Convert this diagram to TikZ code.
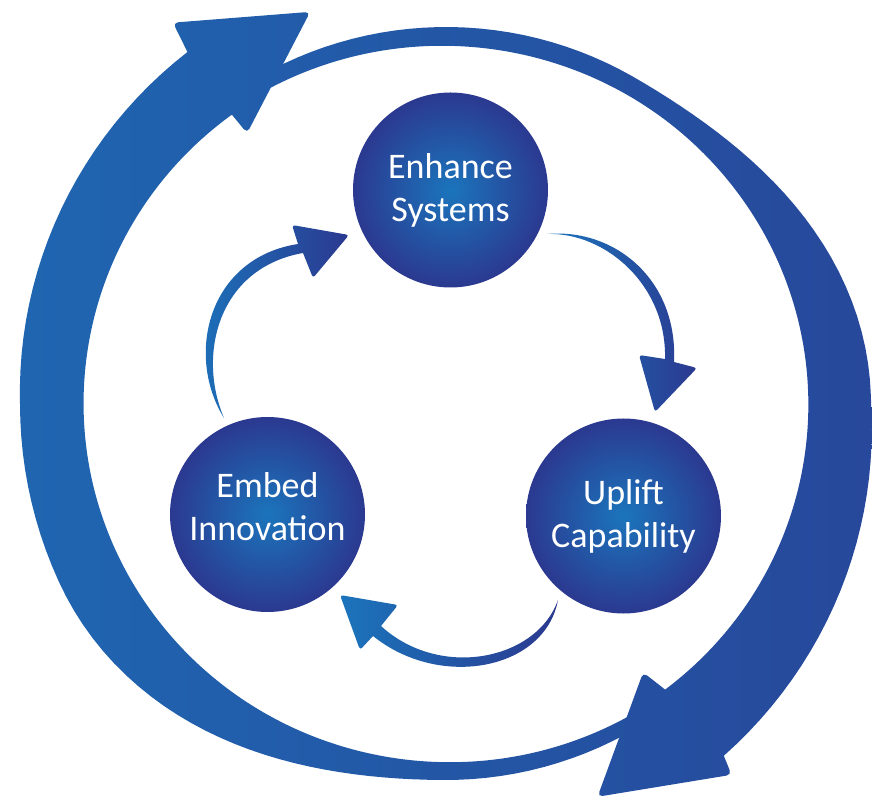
\documentclass[tikz,border=0pt]{standalone}
\usepackage{fontspec}
\setmainfont{Carlito}
\usetikzlibrary{calc}
\definecolor{lite}{RGB}{27,117,188}
\definecolor{deep}{RGB}{43,57,144}
\pgfdeclarehorizontalshading{sweep}{100bp}{color(0bp)=(lite); color(100bp)=(deep)}
\pgfdeclareradialshading{orbfill}{\pgfpoint{0bp}{0bp}}{color(0bp)=(lite); color(25bp)=(deep); color(50bp)=(deep)}
\begin{document}
\begin{tikzpicture}
  [
    x = 1pt, y = 1pt,
    hub/.style = {circle, minimum size = 195pt, inner sep = 0pt, shade, shading = orbfill, text = white, align = center, font = \fontsize{36}{43}\selectfont},
    flow/.style = {left color = lite, right color = deep}
  ]
    \useasboundingbox (-446,-398) rectangle (426,404);
    % big ring, left half: thin at the bottom, head at the top
    \begin{scope}
      \clip plot [domain = 303:126.3, samples = 80, variable = \t] (\t:{376+25*(1+cos(min(max(\t-205,0),65)*180/65))+0.2*max(180-\t,0)})
        [rounded corners = 5pt] -- (125.6:469) -- (109.1:415) -- (126.3:336) [sharp corners]
        -- (126.5:360) arc [start angle = 126.5, end angle = 303, x radius = 366, y radius = 359] -- cycle;
      \shade [shading = sweep] (-446,-398) rectangle (426,404);
    \end{scope}
    % big ring, right half
    \begin{scope}
      \clip plot [domain = 122:-51.7, samples = 80, variable = \t] (\t:{377+24*(1-cos(min(max(60-\t,0),60)*3))+0.45*max(-\t,0)})
        [rounded corners = 5pt] -- (-52.4:468) -- (-68.9:421) -- (-53.7:333) [sharp corners]
        -- (-52.5:360) arc [start angle = -52.5, end angle = 122, x radius = 366, y radius = 359] -- cycle;
      \shade [shading = sweep] (-446,-398) rectangle (426,404);
    \end{scope}
    \node (enh) [hub] at (4.5,214) {Enhance\\Systems};
    \node (embed) [hub, text depth = 16pt] at (-178.5,-110.5) {Embed\\Innovation};
    \node (upl) [hub] at (177.5,-112) {Uplift\\Capability};
    \shade [flow] ([shift={(-43.5,96.5)}]embed.center)
      .. controls +(-39,63) and +(-90,-14) .. ([shift={(-152.5,-54)}]enh.center)
      [rounded corners = 3pt] -- ([shift={(-158.5,-35)}]enh.center) -- ([shift={(-101.5,-45)}]enh.center)
      -- ([shift={(-137.5,-88)}]enh.center) [sharp corners] -- ([shift={(-147.5,-63)}]enh.center)
      .. controls +(-85,-15) and +(-27,63) .. ([shift={(-43.5,96.5)}]embed.center) -- cycle;
    \shade [flow] ([shift={(96.5,-44)}]enh.center)
      .. controls +(68,6) and +(4,82) .. ([shift={(50.5,154)}]upl.center)
      [rounded corners = 3pt] -- ([shift={(73.5,148)}]upl.center) -- ([shift={(31.5,104)}]upl.center)
      -- ([shift={(15.5,161)}]upl.center) [sharp corners] -- ([shift={(41.5,157)}]upl.center)
      .. controls +(2,74) and +(58,2) .. ([shift={(96.5,-44)}]enh.center) -- cycle;
    \shade [flow] ([shift={(-65.5,-84)}]upl.center)
      .. controls +(-13,-70) and +(67,-54) .. ([shift={(105.5,-121.5)}]embed.center)
      [rounded corners = 3pt] -- ([shift={(92.5,-135.5)}]embed.center) -- ([shift={(72.5,-80.5)}]embed.center)
      -- ([shift={(130.5,-90.5)}]embed.center) [sharp corners] -- ([shift={(113.5,-111.5)}]embed.center)
      .. controls +(59,-54) and +(-21,-60) .. ([shift={(-65.5,-84)}]upl.center) -- cycle;
  \end{tikzpicture}
\end{document}
